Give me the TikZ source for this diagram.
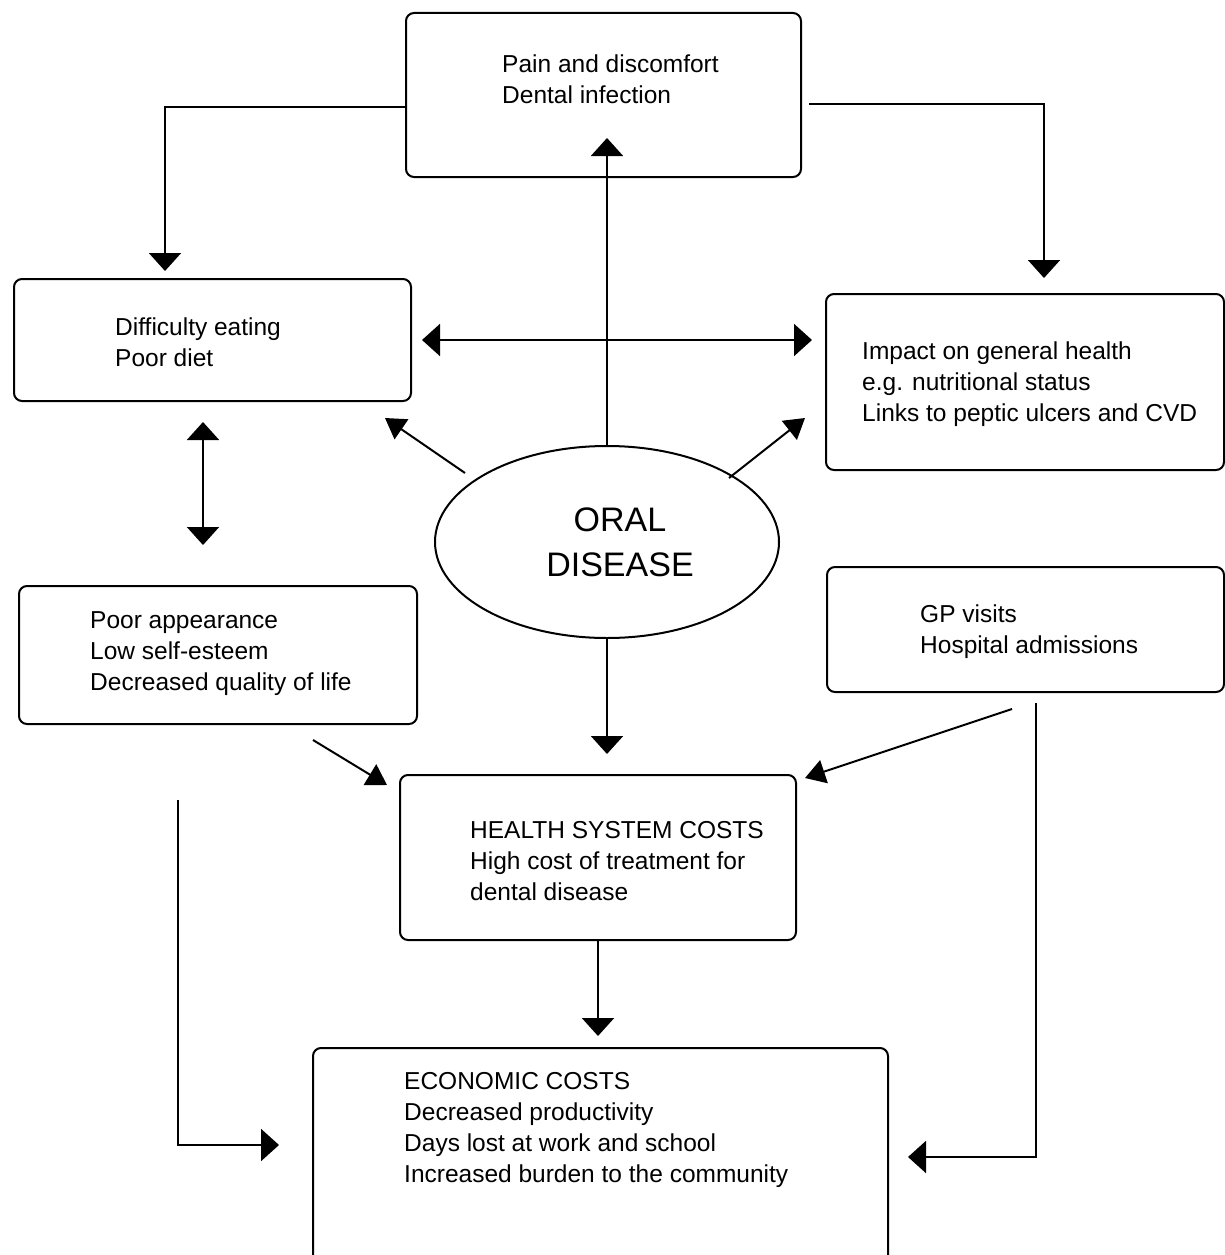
\documentclass[tikz,border=0pt]{standalone}
\usepackage{fontspec}
\setmainfont{Liberation Sans}
\usetikzlibrary{arrows.meta,shapes.geometric}
\begin{document}
\begin{tikzpicture}[x=1pt,y=-1pt,
 box/.style={draw, line width=2pt, rounded corners=8pt, anchor=north west, inner sep=0pt},
 txt/.style={anchor=north west, inner sep=0pt, align=left, font=\fontsize{24.5}{31}\selectfont},
 arr/.style={line width=2pt, -{Triangle[width=32pt,length=18pt]}},
 dbl/.style={line width=2pt, {Triangle[width=32pt,length=18pt]}-{Triangle[width=32pt,length=18pt]}},
 diag/.style={line width=2pt, -{Triangle[width=24pt,length=20pt]}}]
\path[use as bounding box] (0,0) rectangle (1225,1255);
\clip (0,0) rectangle (1225,1255);
% boxes
\node[box, minimum width=395pt, minimum height=164pt] (top) at (405,12) {};
\node[box, minimum width=397pt, minimum height=122pt] (diff) at (13,278) {};
\node[box, minimum width=398pt, minimum height=176pt] (impact) at (825,293) {};
\node[box, minimum width=398pt, minimum height=138pt] (appear) at (18,585) {};
\node[box, minimum width=397pt, minimum height=125pt] (gp) at (826,566) {};
\node[box, minimum width=396pt, minimum height=165pt] (health) at (399,774) {};
\node[box, minimum width=575pt, minimum height=230pt] (econ) at (312,1047) {};
\node[draw, ellipse, line width=2pt, minimum width=344pt, minimum height=192pt, inner sep=0pt] (oral) at (607,542) {};
% texts
\node[txt] (ttop) at (502,55) {Pain and discomfort\\Dental infection};
\node[txt] (tdiff) at (115,318) {Difficulty eating\\Poor diet};
\node[txt] (timpact) at (862,342) {Impact on general health\\e.g. nutritional status\\Links to peptic ulcers and CVD};
\node[txt] (tappear) at (90,611) {Poor appearance\\Low self-esteem\\Decreased quality of life};
\node[txt] (tgp) at (920,605) {GP visits\\Hospital admissions};
\node[txt] (thealth) at (470,821) {HEALTH SYSTEM COSTS\\High cost of treatment for\\dental disease};
\node[txt] (tecon) at (404,1072) {ECONOMIC COSTS\\Decreased productivity\\Days lost at work and school\\Increased burden to the community};
\node[font=\fontsize{34}{45}\selectfont, align=center, inner sep=0pt] (toral) at (620,542) {ORAL\\DISEASE};
% free ends
\coordinate (ulS) at (465,473); \coordinate (ulE) at (385,418);
\coordinate (urS) at (729,478); \coordinate (urE) at (805,418);
\coordinate (alS) at (313,740); \coordinate (alE) at (387,785);
\coordinate (grS) at (1012,709); \coordinate (grE) at (805,778);
\coordinate (lS) at (178,800);
\coordinate (rS) at (1036,703);
% connectors
\draw[arr, shorten >=7pt] (top.west |- 0,107) -| (diff.north -| 165,0);
\draw[arr, shorten <=7pt, shorten >=15pt] (top.east |- 0,104) -| (impact.north -| 1044,0);
\draw[arr] (oral.north) -- (oral.north |- 0,138);
\draw[dbl, shorten <=10pt, shorten >=13pt] (diff.east) -- (impact.west |- diff.east);
\draw[diag] (ulS) -- (ulE);
\draw[diag] (urS) -- (urE);
\draw[dbl, shorten <=20pt, shorten >=40pt] (diff.south -| 203,0) -- (appear.north -| 203,0);
\draw[arr, shorten >=20pt] (oral.south) -- (oral.south |- health.north);
\draw[diag] (alS) -- (alE);
\draw[diag] (grS) -- (grE);
\draw[arr, shorten >=11pt] (health.south) -- (econ.north -| health.south);
\draw[arr, shorten >=33pt] (lS) |- (econ.west |- 0,1145);
\draw[arr, shorten >=19pt] (rS) |- (econ.east |- 0,1157);
\end{tikzpicture}
\end{document}
